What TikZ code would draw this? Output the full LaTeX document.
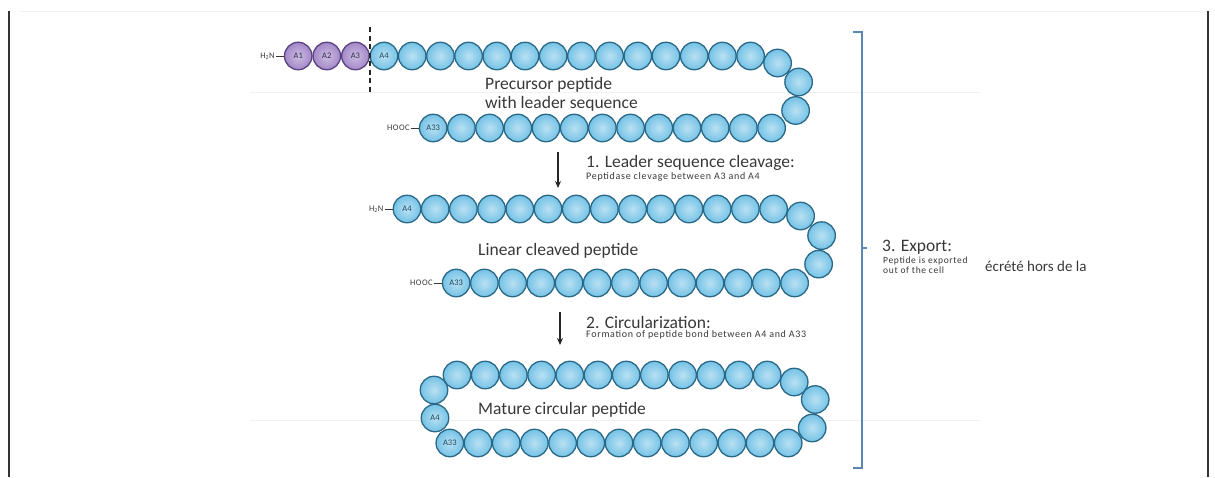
\documentclass[tikz,border=0pt]{standalone}
\usepackage{fontspec}
\setmainfont{Carlito}
\usetikzlibrary{positioning,arrows.meta}

\definecolor{beadfill}{HTML}{74C2E6}
\definecolor{beadrim}{HTML}{2A6886}
\definecolor{leadfill}{HTML}{A387C8}
\definecolor{leadrim}{HTML}{5A4283}
\definecolor{txtgray}{HTML}{383838}
\definecolor{bracketblue}{HTML}{5A86B4}

\tikzset{
  bead/.style={circle, draw=beadrim, line width=1.3pt, inner color=beadfill!50!white,
    outer color=beadfill, minimum size=27.5pt, inner sep=0pt,
    font=\fontsize{8.5}{8.5}\selectfont, text=beadrim!70!black},
  leadbead/.style={bead, draw=leadrim, inner color=leadfill!55!white,
    outer color=leadfill, text=leadrim!60!black},
  term/.style={font={\fontsize{8.5}{8.5}\selectfont\addfontfeatures{LetterSpace=5}}, text=txtgray, inner sep=1pt},
  bond/.style={line width=0.9pt, txtgray},
  peptname/.style={font=\fontsize{17.5}{19}\selectfont, text=txtgray, align=left, inner sep=0pt},
  steptitle/.style={font=\fontsize{17.5}{19}\selectfont, text=txtgray, inner sep=0pt},
  stepnote/.style={font={\fontsize{10}{10}\selectfont\addfontfeatures{LetterSpace=7}}, text=txtgray, align=left, inner sep=0pt},
  steparrow/.style={-{Stealth[length=7pt,width=6pt]}, line width=1.1pt, black!85},
  cutline/.style={line width=1.4pt, black!85, dash pattern=on 5pt off 3.5pt},
  bracket/.style={bracketblue, line width=1.4pt},
  frameline/.style={line width=2pt, black!80},
  faintline/.style={line width=0.6pt, black!6}
}

\begin{document}
\begin{tikzpicture}[x=1pt,y=-1pt]
\useasboundingbox (0,0) rectangle (1215,477);

% frame of the slide
\draw[frameline] (9,11) -- (9,477);
\draw[frameline] (1208,11) -- (1208,477);
\draw[faintline] (20,11) -- (1200,11);
\draw[faintline] (250,92) -- (980,92);
\draw[faintline] (250,420) -- (980,420);

% precursor peptide
\foreach \i/\x in {1/298.2,2/326.8,3/355.4}
  \node[leadbead] (p\i) at (\x,56) {A\i};
\node[bead] (p4) at (384,56) {A4};
\foreach \i in {5,...,17}
  \node[bead] (p\i) at ({384+28.2*(\i-4)},56) {};
\node[bead] (p18) at ([shift={(27,7)}]p17) {};
\node[bead] (p19) at ([shift={(48,26)}]p17) {};
\node[bead] (p20) at ([shift={(45,54.5)}]p17) {};
\foreach \i in {21,...,32}
  \node[bead] (p\i) at ({771.6-28.2*(\i-21)},128) {};
\node[bead] (p33) at (433.2,128) {A33};
\node[term, left=8pt of p1] (pN) {H\textsubscript{2}N};
\draw[bond] (pN) -- (p1);
\node[term, left=8pt of p33] (pC) {HOOC};
\draw[bond] (pC) -- (p33);
\coordinate (cutT) at (370,27);
\coordinate (cutB) at (370,92);
\draw[cutline] (cutT) -- (cutB);
\node[peptname, anchor=west] (pname) at (485,94) {Precursor peptide\\with leader sequence};

% step 1
\coordinate (s1a) at (558,152);
\coordinate (s1b) at (558,188);
\draw[steparrow] (s1a) -- (s1b);
\node[steptitle, anchor=west] (s1) at (586,163) {1. Leader sequence cleavage:};
\node[stepnote, below right=2pt and 0pt of s1.south west] (s1n) {Peptidase clevage between A3 and A4};

% linear cleaved peptide
\node[bead] (l4) at (407,209) {A4};
\foreach \i in {5,...,17}
  \node[bead] (l\i) at ({407+28.2*(\i-4)},209) {};
\node[bead] (l18) at ([shift={(27,7)}]l17) {};
\node[bead] (l19) at ([shift={(48,26.6)}]l17) {};
\node[bead] (l20) at ([shift={(45,55.1)}]l17) {};
\foreach \i in {21,...,32}
  \node[bead] (l\i) at ({794.6-28.2*(\i-21)},283) {};
\node[bead] (l33) at (456.2,283) {A33};
\node[term, left=8pt of l4] (lN) {H\textsubscript{2}N};
\draw[bond] (lN) -- (l4);
\node[term, left=8pt of l33] (lC) {HOOC};
\draw[bond] (lC) -- (l33);
\node[peptname, anchor=west] (lname) at (478,251) {Linear cleaved peptide};

% step 2
\coordinate (s2a) at (560,312);
\coordinate (s2b) at (560,345);
\draw[steparrow] (s2a) -- (s2b);
\node[steptitle, anchor=west] (s2) at (586,322) {2. Circularization:};
\node[stepnote, below right=2pt and 0pt of s2.south west] (s2n) {Formation of peptide bond between A4 and A33};

% mature circular peptide
\node[bead] (m4) at (435,418) {A4};
\node[bead] (m5) at (434,390) {};
\foreach \i in {6,...,17}
  \node[bead] (m\i) at ({457+28.2*(\i-6)},375) {};
\node[bead] (m18) at ([shift={(27,7)}]m17) {};
\node[bead] (m19) at ([shift={(48,24.5)}]m17) {};
\node[bead] (m20) at ([shift={(45,53)}]m17) {};
\foreach \i in {21,...,32}
  \node[bead] (m\i) at ({788.2-28.2*(\i-21)},443) {};
\node[bead] (m33) at (449.8,443) {A33};
\node[peptname, anchor=west] (mname) at (478,410) {Mature circular peptide};

% step 3
\draw[bracket] (853,32) -- (862,32) -- (862,468) -- (853,468);
\coordinate (brM) at (862,248);
\coordinate (brT) at (867,248);
\draw[bracket] (brM) -- (brT);
\node[steptitle, anchor=west] (s3) at (882,247) {3. Export:};
\node[stepnote, font={\fontsize{9.5}{10}\selectfont\addfontfeatures{LetterSpace=7}}, below right=2pt and 1pt of s3.south west] (s3n) {Peptide is exported\\out of the cell};
\node[peptname, anchor=west, font=\fontsize{15}{17}\selectfont] (fr) at (985,266) {écrété hors de la};
\end{tikzpicture}
\end{document}
